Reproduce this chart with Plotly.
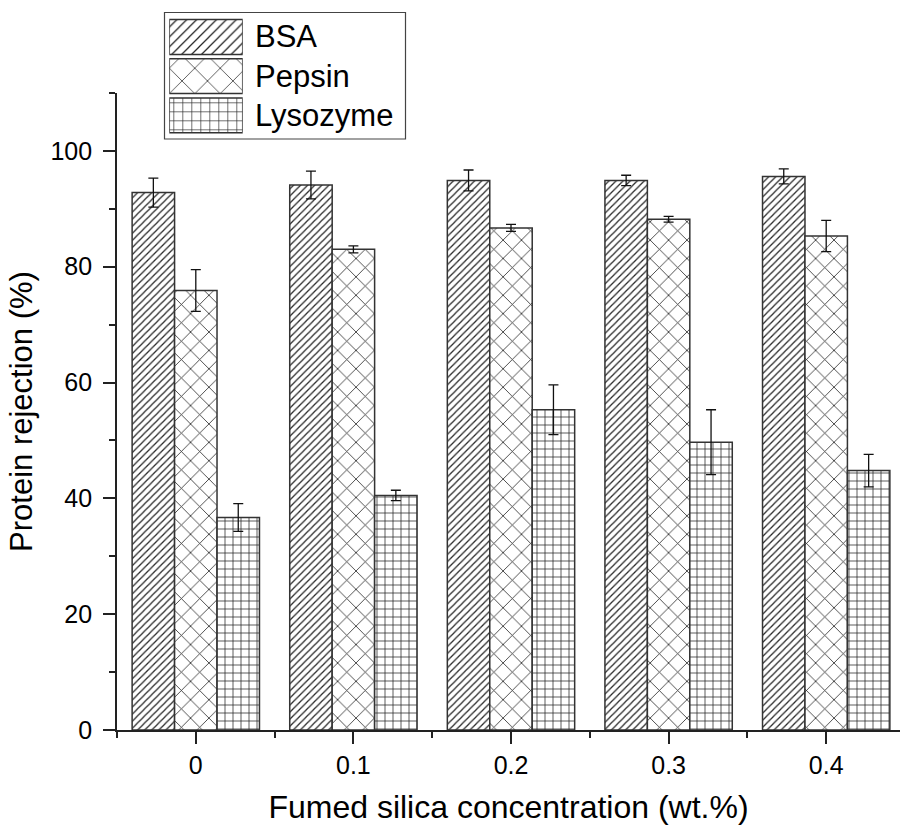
import plotly.graph_objects as go

categories = ["0", "0.1", "0.2", "0.3", "0.4"]
series_names = ["BSA", "Pepsin", "Lysozyme"]
bsa = [92.8, 94.1, 94.9, 94.9, 95.6]
bsa_err = [2.5, 2.4, 1.8, 0.9, 1.3]
pepsin = [75.9, 83.0, 86.7, 88.2, 85.3]
pepsin_err = [3.6, 0.6, 0.6, 0.5, 2.7]
lysozyme = [36.7, 40.5, 55.3, 49.7, 44.8]
lysozyme_err = [2.4, 0.9, 4.3, 5.6, 2.8]
y_ticks = [0, 20, 40, 60, 80, 100]

values = [bsa, pepsin, lysozyme]
errors = [bsa_err, pepsin_err, lysozyme_err]
shapes_pat = ["/", "x", "+"]
sizes_pat = [5, 13, 8]
solid_pat = [0.25, 0.12, 0.18]
leg_sizes = [7, 18, 9]
leg_solid = [0.18, 0.08, 0.14]

FONT = "Liberation Sans, Arial, sans-serif"
W, H = 900, 827
ML, MR, MT, MB = 117, 0, 10, 97
PW, PH = W - ML - MR, H - MT - MB

def px_x(p):
    return (p - ML) / PW

def px_y(p):
    return (H - MB - p) / PH

xpos = list(range(len(categories)))

fig = go.Figure()
for name, vals, errs, shp, sz, so in zip(series_names, values, errors, shapes_pat, sizes_pat, solid_pat):
    fig.add_trace(go.Bar(
        x=xpos, y=vals, name=name, showlegend=False,
        marker=dict(color="white",
                    line=dict(color="#333333", width=1.5),
                    pattern=dict(shape=shp, fgcolor="#262626", bgcolor="white",
                                 size=sz, solidity=so, fillmode="replace")),
        error_y=dict(type="data", array=errs, visible=True, color="#111111",
                     thickness=1.3, width=5),
        xaxis="x", yaxis="y",
    ))

# custom legend swatches on a hidden axis
for i, (name, shp, sz, so) in enumerate(zip(series_names, shapes_pat, leg_sizes, leg_solid)):
    fig.add_trace(go.Bar(
        x=[1], y=[i], orientation="h", showlegend=False, width=0.89,
        marker=dict(color="white",
                    line=dict(color="#333333", width=1.5),
                    pattern=dict(shape=shp, fgcolor="#262626", bgcolor="white",
                                 size=sz, solidity=so, fillmode="replace")),
        xaxis="x2", yaxis="y2", hoverinfo="skip",
    ))
    fig.add_annotation(x=px_x(253), xref="paper", y=i, yref="y2",
                       text=name, showarrow=False, xanchor="left", yanchor="middle",
                       font=dict(family=FONT, size=31, color="black"))

fig.add_shape(type="rect", xref="paper", yref="paper",
              x0=px_x(164.5), x1=px_x(405.5), y0=px_y(139), y1=px_y(12.5),
              line=dict(color="#444444", width=1.2), fillcolor="rgba(0,0,0,0)", layer="below")

fig.update_layout(
    width=W, height=H,
    margin=dict(l=ML, r=MR, t=MT, b=MB),
    paper_bgcolor="white", plot_bgcolor="white",
    barmode="group", bargap=0.192, bargroupgap=0,
    font=dict(family=FONT, color="black"),
    xaxis=dict(
        domain=[0, 1], range=[-0.5, -0.5 + PW / 157.6],
        tickmode="array", tickvals=xpos, ticktext=categories,
        ticks="outside", ticklen=12, tickwidth=1.5, tickcolor="#222",
        showline=True, linecolor="#222", linewidth=1.8,
        showgrid=False, zeroline=False,
        tickfont=dict(size=25, family=FONT, color="black"),
        minor=dict(tickmode="array", tickvals=[v - 0.5 for v in xpos] + [xpos[-1] + 0.5],
                   ticks="outside", ticklen=6, tickwidth=1.5, tickcolor="#222", showgrid=False),
        title=dict(text="Fumed silica concentration (wt.%)",
                   font=dict(size=32, family=FONT, color="black"), standoff=18),
        automargin=False,
    ),
    yaxis=dict(
        domain=[0, px_y(93)], range=[0, 110],
        tickmode="array", tickvals=y_ticks,
        ticks="outside", ticklen=12, tickwidth=1.5, tickcolor="#222",
        showline=True, linecolor="#222", linewidth=1.8,
        showgrid=False, zeroline=False,
        tickfont=dict(size=25, family=FONT, color="black"),
        ticklabelstandoff=6,
        minor=dict(dtick=10, tick0=0, ticks="outside", ticklen=6, tickwidth=1.5,
                   tickcolor="#222", showgrid=False),
        title=dict(text="Protein rejection (%)",
                   font=dict(size=31, family=FONT, color="black"), standoff=9),
        automargin=False,
    ),
    xaxis2=dict(domain=[px_x(169.3), px_x(242.7)], range=[0, 1], visible=False,
                anchor="y2", fixedrange=True),
    yaxis2=dict(domain=[px_y(135), px_y(17.3)], range=[2.5, -0.5], visible=False,
                anchor="x2", fixedrange=True),
)

fig.write_html("out.html", config={"displayModeBar": False},
               post_script="document.body.style.margin='0';document.body.style.padding='0';")
